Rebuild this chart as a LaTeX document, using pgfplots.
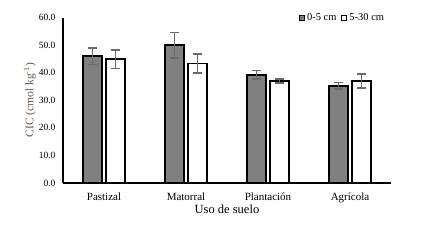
\documentclass[border=0pt]{standalone}
\usepackage{fontspec}
\setmainfont{Liberation Serif}
\usepackage{pgfplots}
\pgfplotsset{compat=1.18}
\definecolor{barg}{RGB}{128,128,128}
\definecolor{errg}{RGB}{105,105,105}
\definecolor{ylab}{RGB}{105,85,72}
\begin{document}
\begin{tikzpicture}
\begin{axis}[
  scale only axis,
  width=328pt, height=165.5pt,
  ybar=4pt, bar width=19pt,
  ymin=0, ymax=60,
  xmin=-0.5, xmax=3.5,
  xtick={0,1,2,3},
  xticklabels={Pastizal,Matorral,Plantación,Agrícola},
  ytick={0,10,...,60},
  axis lines=left,
  axis line style={-, black, line width=1.6pt},
  major tick length=0pt,
  /pgf/number format/assume math mode=true,
  yticklabel style={/pgf/number format/fixed, /pgf/number format/fixed zerofill, /pgf/number format/precision=1, xshift=-4pt, font=\fontsize{9.5}{11}\selectfont},
  xticklabel style={yshift=-6pt, font=\fontsize{11}{13}\selectfont},
  tick label style={text=black},
  xlabel={Uso de suelo},
  xlabel style={font=\fontsize{12.5}{14}\selectfont, yshift=5pt},
  ylabel={CIC (cmol kg\textsuperscript{-1})},
  ylabel style={font=\fontsize{11.5}{13}\selectfont, text=ylab, yshift=-4pt},
  legend style={draw=none, fill=none, at={(0.995,1.0)}, anchor=east,
    font=\fontsize{10.5}{12}\selectfont, legend columns=2,
    /tikz/every even column/.append style={column sep=3pt}},
  legend image code/.code={\draw[#1, line width=1pt] (0pt,-2.5pt) rectangle (5pt,2.5pt);},
  legend cell align=left,
  error bars/y dir=both, error bars/y explicit,
  error bars/error bar style={errg, line width=1.7pt},
  error bars/error mark options={rotate=90, mark size=4.5pt, line width=1.7pt, errg},
]
\addplot[fill=barg, draw=black, line width=1.5pt] coordinates {
  (0,46.0) +- (0,3.0)
  (1,50.0) +- (0,4.6)
  (2,39.2) +- (0,1.6)
  (3,35.2) +- (0,1.2)
};
\addplot[fill=white, draw=black, line width=1.5pt] coordinates {
  (0,44.9) +- (0,3.4)
  (1,43.3) +- (0,3.5)
  (2,37.0) +- (0,0.7)
  (3,37.0) +- (0,2.6)
};
\legend{0-5 cm,5-30 cm}
\end{axis}
\path[use as bounding box] (-63pt,-61pt) rectangle (376pt,183pt);
\end{tikzpicture}
\end{document}
